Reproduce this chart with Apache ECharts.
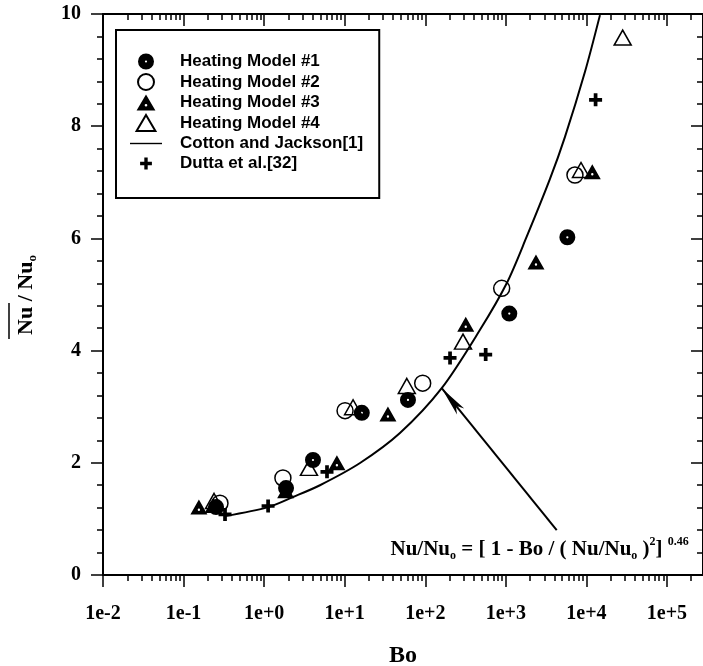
<!DOCTYPE html>
<html>
<head>
<meta charset="utf-8">
<script src="https://cdn.jsdelivr.net/npm/echarts@6/dist/echarts.min.js"></script>
<style>
  html, body { margin: 0; padding: 0; background: #fff; }
  #chart { width: 703px; height: 666px; }
</style>
</head>
<body>
<div id="chart"></div>
<script>
// values: [Bo, Nu/Nu0]
const model1 = [[0.253, 1.21], [1.87, 1.55], [4.04, 2.05], [16.3, 2.89], [61, 3.12], [1104, 4.66], [5800, 6.02]];
const model2 = [[0.283, 1.28], [1.71, 1.73], [10.1, 2.93], [92.9, 3.42], [888, 5.11], [7210, 7.13]];
const model3 = [[0.155, 1.21], [0.233, 1.24], [1.85, 1.50], [8.0, 2.0], [34.4, 2.87], [318, 4.47], [2366, 5.58], [11830, 7.19]];
const model4 = [[0.239, 1.32], [3.6, 1.91], [12.7, 2.99], [59, 3.37], [294, 4.16], [8570, 7.22], [28200, 9.58]];
const dutta = [[0.327, 1.08], [1.12, 1.23], [6.03, 1.84], [203, 3.87], [562, 3.93], [13000, 8.47]];

// Cotton and Jackson curve, traced
const cottonBo = [0.327, 1.12, 2.28, 4.93, 15.5, 48.5, 160, 478, 1025, 1815, 3530, 5420, 9600, 14730];
const cottonNu = [1.05, 1.21, 1.39, 1.60, 1.996, 2.53, 3.33, 4.37, 5.20, 6.03, 7.06, 7.81, 8.97, 9.98];

const xTickValues = [1e-2, 1e-1, 1e0, 1e1, 1e2, 1e3, 1e4, 1e5];
const xTickLabels = ['1e-2', '1e-1', '1e+0', '1e+1', '1e+2', '1e+3', '1e+4', '1e+5'];
const xMin = 0.01;
const xMax = 2.8e5;

// arrow from the formula to the curve
const arrowFrom = [4280, 0.80];
const arrowTo = [160, 3.33];
const formulaAt = [36.5, 0.46];

const xMinorValues = [];
xTickValues.forEach(d => {
  for (let m = 2; m <= 9; m++) {
    const v = m * d;
    if (v <= xMax) xMinorValues.push(v);
  }
});

const SERIF = '"Liberation Serif", "Times New Roman", serif';
const SANS = '"Liberation Sans", Arial, sans-serif';

const symDisc = 'path://M0,-10 A10,10 0 1,1 0,10 A10,10 0 1,1 0,-10 Z M0,-1.4 A1.4,1.4 0 1,0 0,1.4 A1.4,1.4 0 1,0 0,-1.4 Z';
const symTri = 'path://M0,0 L10,17 L-10,17 Z M0,10 A1.4,1.4 0 1,0 0,12.8 A1.4,1.4 0 1,0 0,10 Z';
const symTriOpen = 'path://M0,0 L10,17 L-10,17 Z';
const symPlus = 'path://M-2,-7 L2,-7 L2,-2 L7,-2 L7,2 L2,2 L2,7 L-2,7 L-2,2 L-7,2 L-7,-2 L-2,-2 Z';
// legend icons: the cross is drawn a bit smaller than the other symbols
const iconPlus = 'path://M-9.5,-9.5 L-9.5,-9.5 Z M9.5,9.5 L9.5,9.5 Z M-2,-7 L2,-7 L2,-2 L7,-2 L7,2 L2,2 L2,7 L-2,7 L-2,2 L-7,2 L-7,-2 L-2,-2 Z';
const iconLine = 'path://M0,0 L32,0 L32,1.4 L0,1.4 Z';

const axisLine = { show: true, lineStyle: { color: '#000', width: 2 } };
const tickStyle = { color: '#000', width: 1.5 };

const logAxis = (position, values, len, inside, extra) => Object.assign({
  type: 'log',
  logBase: 10,
  min: xMin,
  max: xMax,
  position: position,
  axisLine: { show: false },
  axisTick: { show: true, customValues: values, length: len, inside: inside, lineStyle: tickStyle },
  axisLabel: { show: false },
  splitLine: { show: false },
  minorTick: { show: false }
}, extra || {});

const valAxis = (position, inside, extra) => Object.assign({
  type: 'value',
  min: 0,
  max: 10,
  interval: 2,
  position: position,
  axisLine: axisLine,
  axisTick: { show: true, length: 12, inside: inside, lineStyle: tickStyle },
  minorTick: { show: true, splitNumber: 5, length: 6, lineStyle: tickStyle },
  axisLabel: { show: false },
  splitLine: { show: false }
}, extra || {});

const chart = echarts.init(document.getElementById('chart'));

const option = {
  animation: false,
  backgroundColor: '#fff',
  grid: { left: 103, right: 0, top: 14, bottom: 91, containLabel: false, outerBoundsMode: 'none' },
  xAxis: [
    logAxis('bottom', xTickValues, 12, false, {
      axisLine: axisLine,
      name: 'Bo',
      nameLocation: 'middle',
      nameGap: 69,
      nameTextStyle: { fontFamily: SERIF, fontWeight: 'bold', fontSize: 24, color: '#000' },
      axisLabel: {
        show: true,
        customValues: xTickValues,
        margin: 29,
        fontFamily: SERIF,
        fontWeight: 'bold',
        fontSize: 20,
        color: '#000',
        formatter: v => {
          const i = xTickValues.findIndex(t => Math.abs(Math.log10(t) - Math.log10(v)) < 1e-6);
          return i >= 0 ? xTickLabels[i] : '';
        }
      }
    }),
    logAxis('bottom', xMinorValues, 6, false),
    logAxis('top', xTickValues, 12, true, { axisLine: axisLine }),
    logAxis('top', xMinorValues, 6, true)
  ],
  yAxis: [
    valAxis('left', false, {
      axisLabel: { show: true, margin: 22, fontFamily: SERIF, fontWeight: 'bold', fontSize: 20, color: '#000' }
    }),
    valAxis('right', true)
  ],
  legend: {
    orient: 'vertical',
    left: 116,
    top: 30,
    padding: [23, 16, 26, 14],
    itemWidth: 32,
    itemHeight: 16,
    itemGap: 3,
    symbolKeepAspect: true,
    borderColor: '#000',
    borderWidth: 2,
    borderRadius: 0,
    backgroundColor: '#fff',
    textStyle: { fontFamily: SANS, fontWeight: 'bold', fontSize: 17, color: '#000', padding: [0, 0, 0, 13] },
    data: [
      'Heating Model #1',
      'Heating Model #2',
      'Heating Model #3',
      'Heating Model #4',
      { name: 'Cotton and Jackson[1]', icon: iconLine, itemStyle: { color: '#000', borderWidth: 0 } },
      { name: 'Dutta et al.[32]', icon: iconPlus }
    ]
  },
  graphic: [{
    type: 'group',
    x: 26,
    y: 295,
    rotation: Math.PI / 2,
    children: [
      {
        type: 'text',
        style: {
          text: '{a|Nu / Nu}{s|o}',
          align: 'center',
          verticalAlign: 'middle',
          rich: {
            a: { fontFamily: SERIF, fontWeight: 'bold', fontSize: 22, fill: '#000', lineHeight: 26 },
            s: { fontFamily: SERIF, fontWeight: 'bold', fontSize: 13, fill: '#000', verticalAlign: 'bottom', lineHeight: 26, padding: [10, 0, 0, 0] }
          }
        }
      },
      {
        type: 'line',
        shape: { x1: -44, y1: -17, x2: -8, y2: -17 },
        style: { stroke: '#000', lineWidth: 1.5 }
      }
    ]
  }],
  series: [
    {
      name: 'Cotton and Jackson[1]',
      type: 'line',
      data: cottonBo.map((b, i) => [b, cottonNu[i]]),
      smooth: 0.3,
      showSymbol: false,
      symbol: 'none',
      clip: true,
      z: 2,
      lineStyle: { color: '#000', width: 2 },
      itemStyle: { color: '#000' },
      markLine: {
        silent: true,
        symbol: ['none', 'arrow'],
        symbolSize: [7, 30],
        label: { show: false },
        lineStyle: { color: '#000', width: 2, type: 'solid' },
        data: [[{ coord: arrowFrom }, { coord: arrowTo }]]
      },
      markPoint: {
        silent: true,
        symbol: 'circle',
        symbolSize: 1,
        itemStyle: { color: 'rgba(0,0,0,0)' },
        label: {
          show: true,
          position: 'right',
          distance: 0,
          formatter: '{m|Nu/Nu}{s|o}{m| = [ 1 - Bo / ( Nu/Nu}{s|o}{m| )}{p|2}{m|] }{p|0.46}',
          rich: {
            m: { fontFamily: SERIF, fontWeight: 'bold', fontSize: 21, color: '#000', lineHeight: 26 },
            s: { fontFamily: SERIF, fontWeight: 'bold', fontSize: 12, color: '#000', verticalAlign: 'bottom', lineHeight: 26, padding: [10, 0, 0, 0] },
            p: { fontFamily: SERIF, fontWeight: 'bold', fontSize: 12, color: '#000', verticalAlign: 'top', lineHeight: 26, padding: [0, 0, 6, 0] }
          }
        },
        data: [{ coord: formulaAt }]
      }
    },
    {
      name: 'Heating Model #3',
      type: 'scatter',
      data: model3,
      symbol: symTri,
      symbolSize: [17, 15],
      z: 3,
      itemStyle: { color: '#000', opacity: 1 }
    },
    {
      name: 'Heating Model #1',
      type: 'scatter',
      data: model1,
      symbol: symDisc,
      symbolSize: 16,
      z: 3,
      itemStyle: { color: '#000', opacity: 1 }
    },
    {
      name: 'Heating Model #4',
      type: 'scatter',
      data: model4,
      symbol: symTriOpen,
      symbolSize: [17, 15],
      z: 4,
      itemStyle: { color: 'rgba(255,255,255,0)', borderColor: '#000', borderWidth: 1.5, opacity: 1 }
    },
    {
      name: 'Heating Model #2',
      type: 'scatter',
      data: model2,
      symbol: 'circle',
      symbolSize: 16,
      z: 4,
      itemStyle: { color: 'rgba(255,255,255,0)', borderColor: '#000', borderWidth: 1.5, opacity: 1 }
    },
    {
      name: 'Dutta et al.[32]',
      type: 'scatter',
      data: dutta,
      symbol: symPlus,
      symbolSize: 13,
      z: 4,
      itemStyle: { color: '#000', opacity: 1 }
    }
  ]
};

chart.setOption(option);
</script>
</body>
</html>
